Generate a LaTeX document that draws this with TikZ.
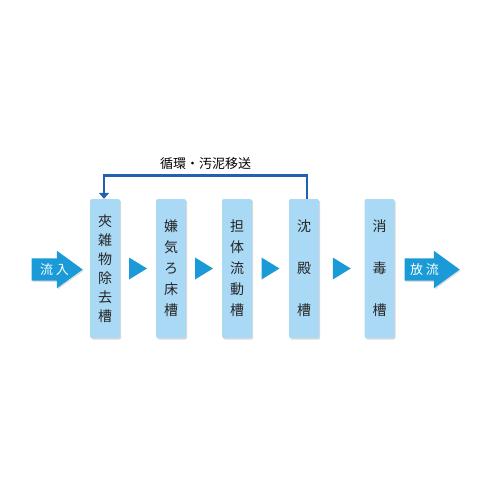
\documentclass[tikz,border=0pt]{standalone}
\usepackage{fontspec}
\newfontfamily\jpfont{Noto Sans CJK JP}
\usetikzlibrary{shapes.arrows,shadows,arrows.meta,calc}

\definecolor{tankblue}{HTML}{A9D9F5}
\definecolor{flowblue}{HTML}{1A9BD7}
\definecolor{loopblue}{HTML}{1F63B0}

\tikzset{
  tank/.style={fill=tankblue, rounded corners=2pt, minimum width=30pt,
    minimum height=139pt, inner sep=0pt, text=black!85, align=center,
    font=\jpfont\fontsize{14}{#1}\selectfont,
    drop shadow={shadow xshift=1.2pt, shadow yshift=-1.5pt, opacity=.3}},
  tank/.default=19,
  bigflow/.style={single arrow, fill=flowblue, minimum height=#1,
    single arrow head extend=7.5pt, single arrow tip angle=72,
    inner xsep=0pt, inner ysep=11pt, anchor=tip,
    drop shadow={shadow xshift=1pt, shadow yshift=-1.2pt, opacity=.25}},
  flowtext/.style={text=white, inner sep=0pt, font=\jpfont\fontsize{13}{15}\selectfont},
  flowtri/.style={fill=flowblue},
  loopline/.style={draw=loopblue, line width=2.8pt, -{Triangle[length=6pt,width=10pt]}},
}

% small triangle between two tanks
\newcommand{\tankstep}[2]{%
  \fill[flowtri] ($(#1.east)!.5!(#2.west)+(-9,-11)$) -- ++(18,11) -- ++(-18,11) -- cycle;}

\begin{document}
\begin{tikzpicture}[x=1pt, y=-1pt]
  \useasboundingbox (0,0) rectangle (497,497);

  \node[tank] (sep) at (105,268.5) {夾\\雑\\物\\除\\去\\槽};
  \node[tank=21] (anox) at (171,268.5) {嫌\\気\\ろ\\床\\槽};
  \node[tank=21] (media) at (237,268.5) {担\\体\\流\\動\\槽};
  \node[tank=42] (settle) at (304,268.5) {沈\\殿\\槽};
  \node[tank=42] (disinf) at (379.5,268.5) {消\\毒\\槽};

  \node[bigflow=51pt] (inflow) at (83,269.5) {};
  \node[flowtext] (intext) at ([xshift=23pt]inflow.tail) {流 入};
  \node[bigflow=55pt] (outflow) at (460,269.5) {};
  \node[flowtext] (outtext) at ([xshift=20pt]outflow.tail) {放 流};

  \tankstep{sep}{anox}
  \tankstep{anox}{media}
  \tankstep{media}{settle}
  \tankstep{settle}{disinf}

  % return of sludge
  \draw[loopline] ([xshift=3pt]settle.north) -- ++(0,-23) -| ([xshift=-1pt]sep.north)
    node[pos=.25, above=2pt, text=black, font=\jpfont\fontsize{13}{15}\selectfont] (looplabel) {循環・汚泥移送};
\end{tikzpicture}
\end{document}
